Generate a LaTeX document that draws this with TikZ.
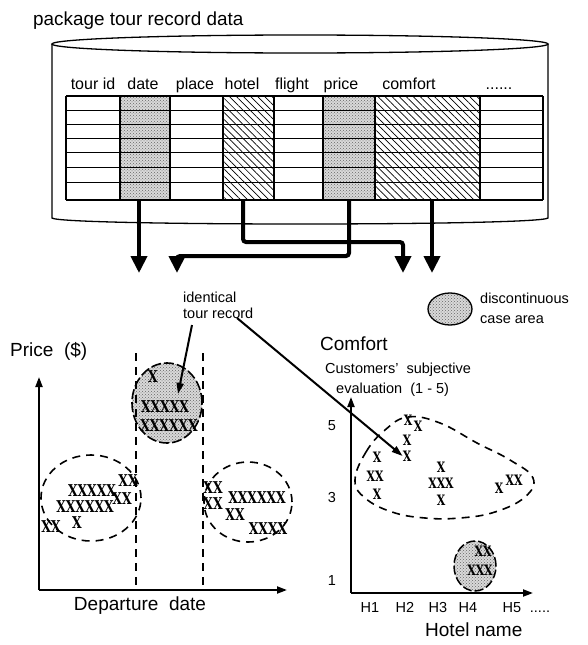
\documentclass[tikz,border=0pt]{standalone}
\usepackage{fontspec}
\setmainfont{Liberation Sans}
\newfontfamily\xmarkfont{DejaVu Serif}
\usetikzlibrary{arrows.meta,patterns,patterns.meta}
\newcommand\mk[1]{\scalebox{0.95}[1.25]{#1}}
\tikzset{
  big/.style={font=\fontsize{19}{21}\selectfont, inner sep=0pt},
  hdr/.style={font=\fontsize{16}{18}\selectfont, inner sep=0pt, anchor=base},
  sml/.style={font=\fontsize{14.5}{16}\selectfont, inner sep=0pt, anchor=base west},
  tick/.style={font=\fontsize{14.5}{16}\selectfont, inner sep=0pt, anchor=base},
  xm/.style={font=\xmarkfont\bfseries\fontsize{13}{13}\selectfont, inner sep=0pt},
  xs/.style={font=\xmarkfont\bfseries\fontsize{11.5}{12}\selectfont, inner sep=0pt},
  stipple/.style={fill=black!15, postaction={pattern=crosshatch dots, pattern color=black!60}},
  hatch/.style={pattern={Lines[angle=-45,distance=5pt,line width=0.7pt]}},
  tline/.style={line width=1.3pt},
  cline/.style={line width=2pt},
  flow/.style={line width=4pt, rounded corners=3pt, -{Triangle[width=16pt,length=17pt]}},
  axis/.style={line width=2pt, -{Triangle[width=7pt,length=10pt]}},
  ptr/.style={line width=2pt, -{Triangle[width=7pt,length=11pt]}},
  dsh/.style={line width=1.6pt, dash pattern=on 8pt off 6pt},
}
\begin{document}
\begin{tikzpicture}[x=1pt,y=-1pt]
\useasboundingbox (0,0) rectangle (588,645);
% title
\node[anchor=base west, inner sep=0pt, font=\fontsize{18.9}{20}\selectfont] (title) at (33,25) {package tour record data};
% cylinder
\draw[line width=1.3pt] (300,44) ellipse [x radius=248pt, y radius=9pt];
\draw[line width=1.3pt] (52,44) -- (52,218) .. controls (60,226) and (540,226) .. (548,218) -- (548,44);
% shaded columns
\path[stipple] (120,96) rectangle (170,200);
\path[hatch] (223,96) rectangle (274,200);
\path[stipple] (323,96) rectangle (375,200);
\path[hatch] (375,96) rectangle (480,200);
\foreach \y in {96,110.3,124.3,138.3,152.7,167.3,182.3,200} \draw[tline] (66,\y) -- (543,\y);
\foreach \x in {66,543} \draw[tline] (\x,96) -- (\x,200);
\foreach \x in {120,170,223,274,323,375,480} \draw[cline] (\x,96) -- (\x,200);
% headers
\node[hdr] (hid) at (93,89) {tour id};
\node[hdr] (hdate) at (143,89) {date};
\node[hdr] (hplace) at (195,89) {place};
\node[hdr] (hhotel) at (242,89) {hotel};
\node[hdr] (hflight) at (292,89) {flight};
\node[hdr] (hprice) at (341,89) {price};
\node[hdr] (hcomfort) at (409,89) {comfort};
\node[hdr] (hmore) at (499,89) {......};
% flow arrows
\coordinate (dateS) at (139,200); \coordinate (dateT) at (139,273);
\coordinate (hotS) at (243,200); \coordinate (hotC) at (403,242); \coordinate (hotT) at (403,273);
\coordinate (priS) at (349,200); \coordinate (priC) at (177,256); \coordinate (priT) at (177,273);
\coordinate (comS) at (432,200); \coordinate (comT) at (432,273);
\draw[flow] (dateS) -- (dateT);
\draw[flow] (hotS) |- (hotC) -- (hotT);
\draw[flow] (priS) |- (priC) -- (priT);
\draw[flow] (comS) -- (comT);
% ---------- left chart
\coordinate (LO) at (39,590); \coordinate (LY) at (39,377); \coordinate (LX) at (287,590);
\draw[axis] (LO) -- (LY);
\draw[axis] (LO) -- (LX);
\node[big, anchor=base west] (plab) at (10,356) {Price\ \ (\$)};
\node[big, anchor=base] (dlab) at (140,610) {Departure\ \ date};
\path[stipple] (167,403) ellipse [x radius=35pt, y radius=40pt];
\draw[line width=1.6pt, dash pattern=on 10pt off 3pt] (167,403) ellipse [x radius=35pt, y radius=40pt];
\coordinate (d1a) at (136,353); \coordinate (d1b) at (136,590);
\coordinate (d2a) at (203,353); \coordinate (d2b) at (203,590);
\draw[dsh] (d1a) -- (d1b);
\draw[dsh] (d2a) -- (d2b);
\draw[dsh] (91,498) ellipse [x radius=50pt, y radius=43pt];
\draw[dsh] (248,502) ellipse [x radius=44pt, y radius=40pt];
\node[xm] (m1) at (92,491) {\mk{XXXXX}};
\node[xm] (m2) at (128,481) {\mk{XX}};
\node[xm] (m3) at (85,507) {\mk{XXXXXX}};
\node[xm] (m4) at (122,499) {\mk{XX}};
\node[xm] (m5) at (51,527) {\mk{XX}};
\node[xm] (m6) at (77,523) {\mk{X}};
\node[xm] (b1) at (153,377) {\mk{X}};
\node[xm] (b2) at (165,407) {\mk{XXXXX}};
\node[xm] (b3) at (169,426) {\mk{XXXXXX}};
\node[xm] (r1) at (213,488) {\mk{XX}};
\node[xm] (r2) at (213,504) {\mk{XX}};
\node[xm] (r3) at (257,498) {\mk{XXXXXX}};
\node[xm] (r4) at (235,515) {\mk{XX}};
\node[xm] (r5) at (268,529) {\mk{XXXX}};
% labels for identical record
\node[sml] (ident) at (183,302) {identical};
\node[sml] (tour) at (183,318) {tour record};
\coordinate (p1s) at (192,325); \coordinate (p1t) at (178,394);
\draw[ptr] (p1s) -- (p1t);
% ---------- right chart
\coordinate (RO) at (351,593); \coordinate (RY) at (351,397); \coordinate (RX) at (533,593);
\draw[axis] (RO) -- (RY);
\draw[axis] (RO) -- (RX);
\node[big, anchor=base west] (clab) at (320,350) {Comfort};
\node[sml] (cs1) at (325,373) {Customers'\ \ subjective};
\node[sml] (cs2) at (336,393) {evaluation\ \ (1 - 5)};
\node[tick] (y5) at (332,430) {5};
\node[tick] (y3) at (332,502) {3};
\node[tick] (y1) at (332,585) {1};
\node[tick] (H1) at (370,612) {H1};
\node[tick] (H2) at (405,612) {H2};
\node[tick] (H3) at (438,612) {H3};
\node[tick] (H4) at (468,612) {H4};
\node[tick] (H5) at (512,612) {H5};
\node[tick] (Hd) at (540,612) {.....};
\node[big, anchor=base west] (hlab) at (425,636) {Hotel name};
\draw[dsh] plot[smooth cycle, tension=0.7] coordinates {(355,480) (366,452) (385,430) (408,417) (440,423) (477,443) (510,460) (533,478) (525,497) (495,512) (460,518) (425,518) (392,512) (365,498)};
\path[stipple] (475,566) ellipse [x radius=21pt, y radius=25pt];
\draw[line width=1.5pt, dash pattern=on 9pt off 3pt] (475,566) ellipse [x radius=21pt, y radius=25pt];
\node[xs] (a1) at (377,457) {\mk{X}};
\node[xs] (a2) at (375,476) {\mk{XX}};
\node[xs] (a3) at (377,494) {\mk{X}};
\node[xs] (c1) at (408,420) {\mk{X}};
\node[xs] (c2) at (418,426) {\mk{X}};
\node[xs] (c3) at (407,440) {\mk{X}};
\node[xs] (c4) at (407,456) {\mk{X}};
\node[xs] (e1) at (441,467) {\mk{X}};
\node[xs] (e2) at (441,483) {\mk{XXX}};
\node[xs] (e3) at (441,500) {\mk{X}};
\node[xs] (f1) at (499,488) {\mk{X}};
\node[xs] (f2) at (514,480) {\mk{XX}};
\node[xs] (g1) at (483,551) {\mk{XX}};
\node[xs] (g2) at (480,570) {\mk{XXX}};
\coordinate (p2s) at (237,318);
\draw[ptr] (p2s) -- (c4.west);
% legend
\path[stipple] (450,309) ellipse [x radius=22pt, y radius=16pt];
\draw[line width=1.3pt] (450,309) ellipse [x radius=22pt, y radius=16pt];
\node[sml] (leg1) at (480,303) {discontinuous};
\node[sml] (leg2) at (480,323) {case area};
\end{tikzpicture}
\end{document}
